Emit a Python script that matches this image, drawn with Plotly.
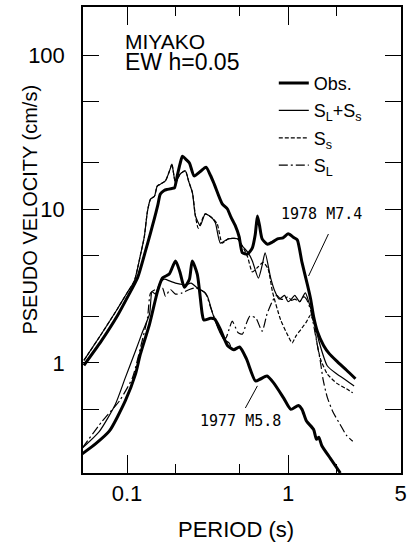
import numpy as np
import plotly.graph_objects as go

# ---------------- data (period s, pseudo velocity cm/s) ----------------
obs78_T = [0.054, 0.069, 0.0875, 0.1, 0.1165, 0.13, 0.14, 0.148, 0.155, 0.161, 0.17, 0.178, 0.19,
           0.197, 0.205, 0.213, 0.221, 0.232, 0.244, 0.261, 0.285, 0.309, 0.33, 0.348, 0.39, 0.42,
           0.442, 0.47, 0.497, 0.52, 0.56, 0.6, 0.625, 0.645, 0.665, 0.69, 0.745, 0.8, 0.86, 0.93,
           1.0, 1.09, 1.14, 1.22, 1.32, 1.38, 1.44, 1.52, 1.66, 1.8, 2.02, 2.3, 2.62]
obs78_V = [0.965, 1.38, 2.04, 2.64, 3.59, 5.3, 7.0, 8.7, 10.5, 12.5, 13.2, 13.4, 13.6,
           13.7, 16.4, 19.5, 22.0, 21.0, 19.9, 16.4, 17.5, 18.7, 16.5, 14.5, 10.8, 10.0,
           8.85, 7.8, 6.6, 5.2, 5.1, 5.6, 6.8, 9.0, 7.8, 6.4, 5.9, 6.1, 6.4, 6.5,
           6.9, 6.5, 6.3, 4.5, 3.2, 2.6, 2.0, 1.6, 1.3, 1.15, 1.02, 0.9, 0.79]

sum78_T = [0.054, 0.069, 0.0875, 0.1, 0.111, 0.121, 0.128, 0.134, 0.14, 0.148, 0.154, 0.161, 0.173,
           0.186, 0.19, 0.2, 0.214, 0.23, 0.242, 0.255, 0.266, 0.285, 0.306, 0.339, 0.354, 0.38,
           0.425, 0.485, 0.52, 0.565, 0.6, 0.654, 0.69, 0.72, 0.78, 0.83, 0.88, 0.95, 1.0, 1.05,
           1.1, 1.18, 1.28, 1.35, 1.45, 1.55, 1.75, 2.0, 2.3, 2.57]
sum78_V = [1.04, 1.53, 2.26, 2.85, 3.41, 5.0, 6.6, 9.7, 11.6, 12.1, 14.1, 14.5, 15.2,
           18.4, 19.6, 14.8, 16.9, 17.7, 15.0, 12.7, 9.0, 7.8, 9.3, 8.7, 8.1, 6.0,
           6.4, 6.4, 5.75, 5.2, 4.6, 3.56, 4.3, 5.2, 3.56, 2.9, 2.6, 2.75, 2.5, 2.6,
           2.75, 2.5, 2.85, 2.45, 1.9, 1.4, 0.96, 0.85, 0.77, 0.71]

ss78_T = [0.054, 0.069, 0.0875, 0.1, 0.111, 0.121, 0.128, 0.134, 0.14, 0.148, 0.154, 0.161, 0.173,
          0.186, 0.19, 0.2, 0.214, 0.23, 0.242, 0.255, 0.266, 0.277, 0.306, 0.339, 0.363, 0.39,
          0.425, 0.485, 0.52, 0.56, 0.6, 0.65, 0.7, 0.75, 0.8, 0.9, 1.0, 1.06, 1.12, 1.2,
          1.3, 1.38, 1.45, 1.52, 1.59, 1.75, 2.0, 2.3, 2.52]
ss78_V = [1.04, 1.53, 2.26, 2.85, 3.41, 5.0, 6.6, 9.7, 11.6, 12.1, 14.1, 14.5, 15.2,
          18.4, 19.6, 14.8, 16.9, 17.7, 15.0, 12.7, 9.0, 7.5, 9.3, 8.7, 8.0, 6.0,
          6.4, 6.4, 5.75, 4.9, 3.9, 4.2, 4.5, 4.1, 2.9, 1.9, 1.5, 1.35, 1.5, 1.65,
          1.85, 2.05, 1.8, 1.3, 1.06, 0.85, 0.74, 0.68, 0.64]

sl78_T = [0.0527, 0.0703, 0.0897, 0.108, 0.121, 0.134, 0.14, 0.15, 0.166, 0.173, 0.186, 0.2, 0.22,
          0.244, 0.266, 0.306, 0.33, 0.36, 0.39, 0.41, 0.43, 0.45, 0.49, 0.52, 0.55, 0.58,
          0.63, 0.69, 0.74, 0.8, 0.85, 0.9, 0.95, 1.0, 1.05, 1.1, 1.18, 1.25, 1.3, 1.38,
          1.45, 1.52, 1.58, 1.65, 1.75, 1.9, 2.1, 2.3, 2.52]
sl78_V = [0.28, 0.42, 0.567, 0.8, 1.25, 1.96, 2.85, 3.0, 3.07, 2.72, 3.0, 2.8, 2.85,
          3.0, 3.07, 2.85, 2.3, 1.8, 1.5, 1.45, 1.65, 1.87, 1.57, 1.54, 1.8, 2.02,
          1.96, 1.61, 2.08, 2.53, 2.75, 2.6, 2.6, 2.7, 2.55, 2.6, 2.5, 2.7, 2.6, 2.2,
          1.7, 1.3, 1.05, 0.78, 0.6, 0.48, 0.4, 0.34, 0.31]

obs77_T = [0.0527, 0.0637, 0.0778, 0.0975, 0.113, 0.121, 0.138, 0.155, 0.166, 0.183, 0.2, 0.213,
           0.227, 0.244, 0.254, 0.273, 0.293, 0.3, 0.33, 0.35, 0.38, 0.42, 0.46, 0.5, 0.55,
           0.627, 0.673, 0.74, 0.813, 0.937, 1.04, 1.16, 1.22, 1.3, 1.44, 1.5, 1.55, 1.62,
           1.83, 2.11]
obs77_V = [0.257, 0.298, 0.362, 0.567, 0.85, 1.14, 1.79, 2.94, 3.56, 3.78, 4.6, 3.9,
           3.1, 3.5, 4.6, 3.78, 2.08, 1.9, 1.95, 1.93, 1.65, 1.3, 1.22, 1.27, 1.07,
           0.764, 0.787, 0.823, 0.742, 0.593, 0.5, 0.53, 0.5, 0.42, 0.37, 0.32, 0.33, 0.29,
           0.24, 0.193]

sum77_T = [0.0527, 0.0674, 0.0847, 0.0975, 0.113, 0.125, 0.138, 0.143, 0.15, 0.159, 0.17, 0.185,
           0.2, 0.215, 0.23, 0.25, 0.27, 0.3, 0.316, 0.34, 0.37, 0.4, 0.43, 0.44]
sum77_V = [0.28, 0.36, 0.54, 0.8, 1.2, 1.6, 2.08, 2.9, 2.8, 3.26, 3.5, 3.4,
           3.3, 3.25, 3.2, 3.3, 3.1, 2.9, 2.7, 2.1, 1.65, 1.42, 1.35, 1.28]

# pointer lines of the two event labels (period, velocity)
ptr78_T = [1.78, 1.34]
ptr78_V = [6.88, 3.67]
ptr77_T = [0.543, 0.645]
ptr77_V = [0.51, 0.71]

x_ticks = [0.1, 1, 5]
x_minor = [0.2, 0.5, 2]
y_ticks = [1, 10, 100]
y_minor = [0.5, 2, 5, 20, 50]

FONT = "Liberation Sans, Arial, sans-serif"
K = "black"

fig = go.Figure()

def add(T, V, width, dash, name, group, show):
    fig.add_trace(go.Scatter(x=T, y=V, mode="lines", name=name, legendgroup=group,
                             showlegend=show, line=dict(color=K, width=width, dash=dash,
                                                        shape="spline", smoothing=0.6),
                             hoverinfo="skip"))

add(obs78_T, obs78_V, 3.0, "solid", "Obs.", "g1", True)
add(sum78_T, sum78_V, 1.2, "solid", "S<sub>L</sub>+S<sub>s</sub>", "g2", True)
add(ss78_T, ss78_V, 1.2, "4px,2px", "S<sub>s</sub>", "g3", True)
add(sl78_T, sl78_V, 1.2, "9px,3px,2px,3px", "S<sub>L</sub>", "g4", True)
add(obs77_T, obs77_V, 3.0, "solid", "Obs. 1977", "g5", False)
add(sum77_T, sum77_V, 1.2, "solid", "SL+Ss 1977", "g6", False)
for T, V in [(ptr78_T, ptr78_V), (ptr77_T, ptr77_V)]:
    fig.add_trace(go.Scatter(x=T, y=V, mode="lines", showlegend=False, hoverinfo="skip",
                             line=dict(color=K, width=1)))

ann_font = dict(family="DejaVu Sans Mono, monospace", size=15, color=K)
fig.add_annotation(x=np.log10(1.61), y=np.log10(9.28), xref="x", yref="y", text="1978 M7.4",
                   showarrow=False, font=ann_font)
fig.add_annotation(x=np.log10(0.506), y=np.log10(0.42), xref="x", yref="y", text="1977 M5.8",
                   showarrow=False, font=ann_font)
fig.add_annotation(x=0.125, y=0.927, xref="paper", yref="paper", text="MIYAKO", showarrow=False,
                   xanchor="left", yanchor="middle", font=dict(family=FONT, size=21, color=K))
fig.add_annotation(x=0.125, y=0.881, xref="paper", yref="paper", text="EW h=0.05", showarrow=False,
                   xanchor="left", yanchor="middle", font=dict(family=FONT, size=23, color=K))
# axis titles
fig.add_annotation(x=-0.167, y=0.565, xref="paper", yref="paper", text="PSEUDO VELOCITY (cm/s)",
                   textangle=-90, showarrow=False, xanchor="center", yanchor="middle",
                   font=dict(family=FONT, size=20, color=K))
fig.add_annotation(x=0.482, y=-0.122, xref="paper", yref="paper", text="PERIOD (s)",
                   showarrow=False, xanchor="center", yanchor="middle",
                   font=dict(family=FONT, size=22, color=K))

axis_common = dict(showline=True, linecolor=K, linewidth=1.5, mirror="ticks", ticks="inside",
                   tickcolor=K, tickwidth=1.2, showgrid=False, zeroline=False, automargin=False,
                   tickfont=dict(family=FONT, size=22, color=K))

fig.update_xaxes(type="log", range=[np.log10(0.0533), np.log10(5) + 0.002],
                 tickmode="array", tickvals=x_ticks, ticktext=["0.1", "1", "5"], ticklen=18,
                 minor=dict(tickmode="array", tickvals=x_minor, ticks="inside", ticklen=9,
                            tickcolor=K, tickwidth=1.2, showgrid=False),
                 ticklabelstandoff=0, **axis_common)
fig.update_yaxes(type="log", range=[np.log10(0.193), np.log10(205)],
                 tickmode="array", tickvals=y_ticks, ticktext=["1", "10", "100"], ticklen=16,
                 minor=dict(tickmode="array", tickvals=y_minor, ticks="inside", ticklen=16,
                            tickcolor=K, tickwidth=1.2, showgrid=False),
                 ticklabelstandoff=12, **axis_common)

fig.update_layout(width=410, height=542, margin=dict(l=83, r=9, t=7, b=69),
                  paper_bgcolor="white", plot_bgcolor="white",
                  legend=dict(x=0.6, y=0.876, xanchor="left", yanchor="top",
                              bgcolor="rgba(0,0,0,0)", borderwidth=0, tracegroupgap=1,
                              font=dict(family=FONT, size=18, color=K)),
                  showlegend=True)

fig.write_html("out.html")
